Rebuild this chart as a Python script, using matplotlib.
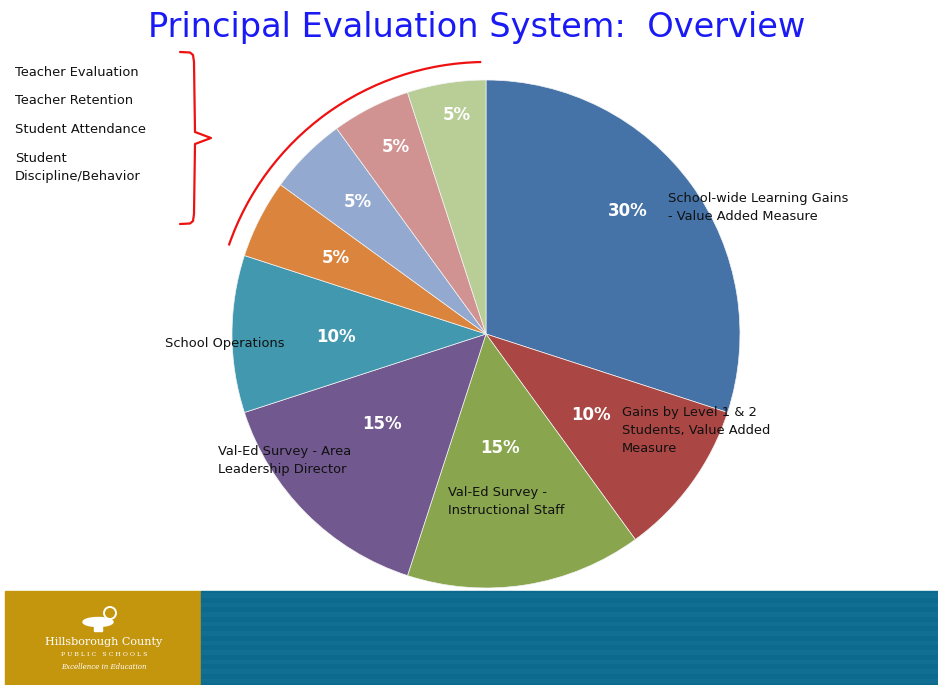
import matplotlib
matplotlib.use("Agg")
import matplotlib.pyplot as plt
from matplotlib.patches import Arc, Rectangle, Ellipse, Circle

# ------------------------------------------------------------
# data
# ------------------------------------------------------------
shares = [30, 10, 15, 15, 10, 5, 5, 5, 5]
colors = ["#4572A7", "#AA4643", "#89A54E", "#71588F", "#4198AF",
          "#DB843D", "#93A9CF", "#D19392", "#B9CD96"]
pct_pos = [(628, 211), (591, 415), (500, 448), (382, 424), (336, 337),
           (336, 258), (358, 202), (396, 147), (457, 115)]

cat_labels = [
    "School-wide Learning Gains\n- Value Added Measure",
    "Gains by Level 1 & 2\nStudents, Value Added\nMeasure",
    "Val-Ed Survey -\nInstructional Staff",
    "Val-Ed Survey - Area\nLeadership Director",
    "School Operations",
]
cat_pos = [(668, 207), (622, 430), (448, 501), (218, 460), (165, 343)]

side_items = ["Teacher Evaluation", "Teacher Retention",
              "Student Attendance", "Student\nDiscipline/Behavior"]
side_y = [72, 100, 129, 167]

title = "Principal Evaluation System:  Overview"

W, H = 938, 685
CX, CY, R = 486, 334, 254

# ------------------------------------------------------------
# figure
# ------------------------------------------------------------
fig = plt.figure(figsize=(W / 100, H / 100), dpi=100)
ax = fig.add_axes([0, 0, 1, 1])

# y axis inverted, so counterclock=True runs clockwise on screen
wedges, _ = ax.pie(
    shares,
    colors=colors,
    startangle=-90,
    counterclock=True,
    center=(CX, CY),
    radius=R,
    wedgeprops=dict(edgecolor="#f4f4f4", linewidth=0.5),
    frame=True,
)

for v, (x, y) in zip(shares, pct_pos):
    ax.text(x, y, f"{v}%", color="white", fontsize=12, fontweight="bold",
            ha="center", va="center")

for txt, (x, y) in zip(cat_labels, cat_pos):
    ax.text(x, y, txt, color="#111111", fontsize=9.4, ha="left",
            va="center", linespacing=1.5)

for txt, y in zip(side_items, side_y):
    ax.text(15, y, txt, color="#111111", fontsize=9.4, ha="left",
            va="center", linespacing=1.5)

# red brace beside the list
bx = [180, 190, 193, 194, 195, 211, 195, 194, 193, 190, 180]
by = [52, 52.5, 55, 62, 132, 138, 144, 214, 221, 223.5, 224]
ax.plot(bx, by, color="#EE1111", linewidth=1.6, solid_capstyle="round")

# red arc over the small slices
ax.add_patch(Arc((CX, CY), 2 * 272, 2 * 272, theta1=199, theta2=269,
                 color="#EE1111", linewidth=1.6))

# title
ax.text(477, 27, title, color="#1A1AF5", fontsize=24.2, ha="center",
        va="center")

# bottom banner
ax.add_patch(Rectangle((5, 591), 196, 94, color="#C4960E", zorder=3))
ax.add_patch(Rectangle((201, 591), W - 201, 94, color="#0B6A8E", zorder=3))
for i in range(10):
    ax.add_patch(Rectangle((201, 593 + i * 9.5), W - 201, 4.5,
                           color="#116F94", zorder=3, linewidth=0))

# logo
ax.add_patch(Ellipse((98, 622), 30, 9, color="white", zorder=4))
ax.add_patch(Rectangle((94, 626), 8, 5, color="white", zorder=4))
ax.add_patch(Circle((110, 613), 6, fill=False, edgecolor="white",
                    linewidth=1.4, zorder=4))
ax.text(104, 642, "Hillsborough County", color="white", fontsize=8,
        family="DejaVu Serif", ha="center", va="center", zorder=5)
ax.text(104, 655, "P U B L I C   S C H O O L S", color="white", fontsize=4.5,
        family="DejaVu Serif", ha="center", va="center", zorder=5)
ax.text(104, 667, "Excellence in Education", color="white", fontsize=5,
        family="DejaVu Serif", style="italic", ha="center", va="center",
        zorder=5)

ax.set_xlim(0, W)
ax.set_ylim(H, 0)
ax.set_aspect("equal")
ax.axis("off")

fig.savefig("out.png", dpi=100, facecolor="white")
